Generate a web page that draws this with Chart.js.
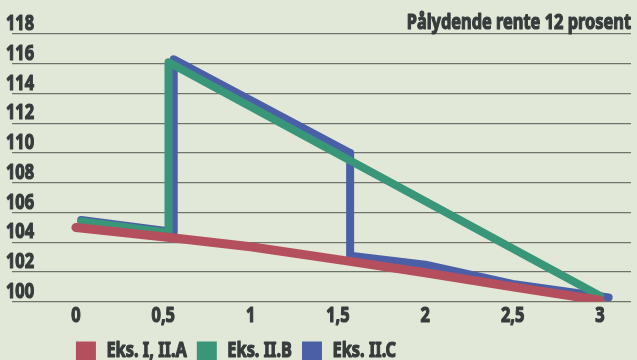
<!DOCTYPE html>
<html>
<head>
<meta charset="utf-8">
<script src="https://cdn.jsdelivr.net/npm/chart.js@4/dist/chart.umd.min.js"></script>
<style>
  html, body { margin: 0; padding: 0; background: #e2e8d8; overflow: hidden; }
  #wrap { width: 637px; height: 360px; }
</style>
</head>
<body>
<div id="wrap"><canvas id="kurs-chart"></canvas></div>
<script>
// kursutvikling for obligasjon, pålydende rente 12 prosent

const tittel = "Pålydende rente 12 prosent";
const serieNavn = ["Eks. I, II.A", "Eks. II.B", "Eks. II.C"];
const farger = ["#b4505d", "#3a9679", "#4b5fa6"];

const xTicks = [0, 0.5, 1, 1.5, 2, 2.5, 3];
const yMin = 100;
const yMax = 118;
const yStep = 2;

// Eks. I, II.A
const tidA = [0, 0.55, 1, 1.55, 2, 2.5, 3];
const kursA = [105.0, 104.3, 103.7, 102.75, 101.95, 101.0, 100.1];

// Eks. II.B
const tidB = [0.03, 0.53, 0.53, 3.0];
const kursB = [105.4, 104.65, 116.1, 100.4];

// Eks. II.C
const tidC = [0.03, 0.56, 0.56, 1.57, 1.57, 2, 2.5, 3.05];
const kursC = [105.5, 104.7, 116.3, 110.0, 103.1, 102.5, 101.2, 100.3];

const punkter = (xs, ys) => xs.map((x, i) => ({ x: x, y: ys[i] }));

const tekstFarge = "#363c3c";
const skrift = "'Noto Sans', 'DejaVu Sans Condensed', sans-serif";
const smal = 0.78; // ingen smal skrift installert, så teksten klemmes sammen

const ctx = document.querySelector("#kurs-chart").getContext("2d");

// all tekst tegnes smalere og litt fetere, og måles deretter
const vanligFill = ctx.fillText.bind(ctx);
const vanligMaal = ctx.measureText.bind(ctx);
ctx.fillText = function (tekst, x, y, maxWidth) {
  ctx.save();
  ctx.translate(x, y);
  ctx.scale(smal, 1);
  ctx.strokeStyle = ctx.fillStyle;
  ctx.lineWidth = 1.2;
  ctx.lineJoin = "round";
  ctx.strokeText(tekst, 0, 0);
  vanligFill(tekst, 0, 0, maxWidth);
  ctx.restore();
};
ctx.measureText = function (tekst) {
  const m = vanligMaal(tekst);
  return { width: m.width * smal, actualBoundingBoxAscent: m.actualBoundingBoxAscent,
    actualBoundingBoxDescent: m.actualBoundingBoxDescent };
};

// flytter legenden slik at første boks står under 0 på x-aksen
const legendVenstre = {
  id: "legendVenstre",
  afterLayout(chart) {
    const lg = chart.legend;
    lg.left = chart.scales.x.getPixelForValue(0) - lg.options.labels.padding;
  },
};

const linje = (navn, data, farge, bredde) => ({
  label: navn,
  data: data,
  showLine: true,
  borderColor: farge,
  backgroundColor: farge,
  borderWidth: bredde,
  borderCapStyle: "round",
  borderJoinStyle: "round",
  pointRadius: 0,
  tension: 0,
});

const kursChart = new Chart(ctx, {
  type: "scatter",
  data: {
    datasets: [
      linje(serieNavn[0], punkter(tidA, kursA), farger[0], 9),
      linje(serieNavn[1], punkter(tidB, kursB), farger[1], 8),
      linje(serieNavn[2], punkter(tidC, kursC), farger[2], 8),
    ],
  },
  options: {
    responsive: true,
    maintainAspectRatio: false,
    animation: false,
    layout: { padding: { top: 0, left: 12, right: 6, bottom: -12 } },
    plugins: {
      title: {
        display: true,
        text: tittel,
        align: "end",
        color: tekstFarge,
        font: { family: skrift, size: 21, weight: "bold", lineHeight: 1.05 },
        padding: { top: 12, bottom: 0 },
      },
      legend: {
        position: "bottom",
        align: "start",
        labels: {
          color: tekstFarge,
          boxWidth: 20,
          boxHeight: 20,
          padding: 10,
          font: { family: skrift, size: 21, weight: "bold" },
          generateLabels: (chart) =>
            Chart.defaults.plugins.legend.labels
              .generateLabels(chart)
              .map((l) => ({ ...l, lineWidth: 0 })),
        },
      },
      tooltip: { enabled: false },
    },
    scales: {
      x: {
        type: "linear",
        min: -0.366,
        max: 3.178,
        afterBuildTicks: (axis) => {
          axis.ticks = xTicks.map((v) => ({ value: v }));
        },
        grid: { display: false, drawTicks: false },
        border: { display: false },
        ticks: {
          color: tekstFarge,
          padding: 2,
          maxRotation: 0,
          autoSkip: false,
          font: { family: skrift, size: 21, weight: "bold" },
          callback: (v) => String(v).replace(".", ","),
        },
      },
      y: {
        min: yMin,
        max: yMax,
        grid: { color: "#6f736c", lineWidth: 1.3, drawTicks: false },
        border: { display: false },
        ticks: {
          stepSize: yStep,
          mirror: true,
          padding: -2,
          labelOffset: -10,
          color: tekstFarge,
          font: { family: skrift, size: 21, weight: "bold" },
        },
      },
    },
  },
  plugins: [legendVenstre],
});
</script>
</body>
</html>
